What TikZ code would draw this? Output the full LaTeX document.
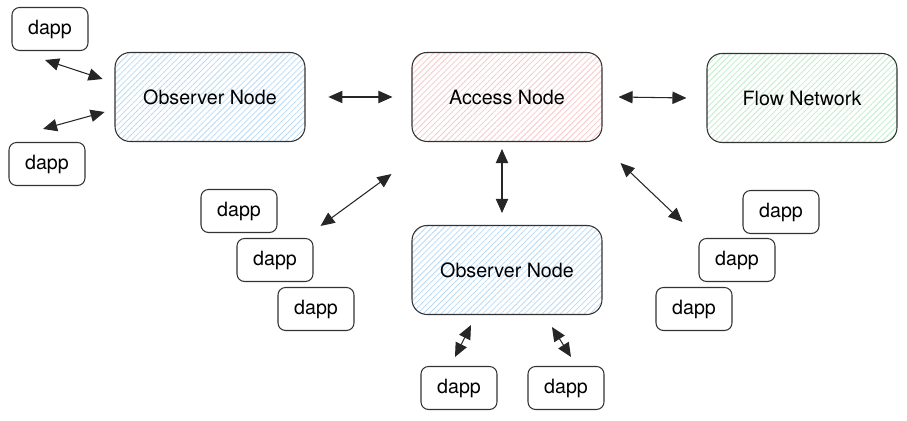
\documentclass[tikz,border=0pt]{standalone}
\usepackage{fontspec}
\setmainfont{TeX Gyre Heros}
\usepackage{tikz}
\usetikzlibrary{arrows.meta,patterns.meta,positioning}

\definecolor{hatchblue}{RGB}{185,218,245}
\definecolor{hatchred}{RGB}{247,200,200}
\definecolor{hatchgreen}{RGB}{190,236,200}

\begin{document}
\begin{tikzpicture}[x=0.02cm,y=-0.02cm,
	dapp/.style={draw=black!80,line width=0.6pt,rounded corners=0.15cm,minimum width=1.52cm,minimum height=0.86cm,inner sep=0pt,font=\fontsize{11.2}{13}\selectfont},
	big/.style={draw=black!80,line width=0.6pt,rounded corners=0.3cm,minimum width=3.8cm,minimum height=1.78cm,inner sep=0pt,font=\fontsize{11.2}{13}\selectfont},
	hatch/.style={pattern={Lines[angle=45,distance=2.4pt,line width=0.45pt]},pattern color=#1},
	link/.style={<->,>={Triangle[length=8pt,width=7pt]},line width=0.6pt,black!85}]

\useasboundingbox (0,0) rectangle (907,421);

% main nodes
\node[big,hatch=hatchblue] (obs_1) at (210,97) {Observer Node};
\node[big,hatch=hatchred] (acc) at (507,97) {Access Node};
\node[big,hatch=hatchgreen] (flow) at (802,98) {Flow Network};
\node[big,hatch=hatchblue] (obs_2) at (507,270) {Observer Node};

% dapps
\node[dapp] (d_1) at (50,29) {dapp};
\node[dapp] (d_2) at (47,164) {dapp};
\node[dapp] (l_1) at (239,211) {dapp};
\node[dapp] (l_2) at (275,260) {dapp};
\node[dapp] (l_3) at (316,309) {dapp};
\node[dapp] (r_1) at (781,212) {dapp};
\node[dapp] (r_2) at (737,260) {dapp};
\node[dapp] (r_3) at (694,309) {dapp};
\node[dapp] (b_1) at (459,388) {dapp};
\node[dapp] (b_2) at (566,388) {dapp};

% links
\draw[link] ([shift={(-5,9)}]d_1.south) -- ([shift={(-12,-18)}]obs_1.west);
\draw[link] ([shift={(-4,-13)}]d_2.north) -- ([shift={(-10,15)}]obs_1.west);
\draw[link] ([shift={(23,0)}]obs_1.east) -- ([shift={(-19,0)}]acc.west);
\draw[link] ([shift={(16,0)}]acc.east) -- ([shift={(-20,0)}]flow.west);
\draw[link] ([shift={(-5,7)}]acc.south) -- ([shift={(-5,-12)}]obs_2.north);
\draw[link] ([shift={(7,-12)}]l_2.north east) -- ([shift={(-20,32)}]acc.south west);
\draw[link] ([shift={(18,21)}]acc.south east) -- ([shift={(-16,-16)}]r_2.north west);
\draw[link] ([shift={(-36,10)}]obs_2.south) -- ([shift={(-4,-9)}]b_1.north);
\draw[link] ([shift={(45,12)}]obs_2.south) -- ([shift={(5,-9)}]b_2.north);
\end{tikzpicture}
\end{document}
